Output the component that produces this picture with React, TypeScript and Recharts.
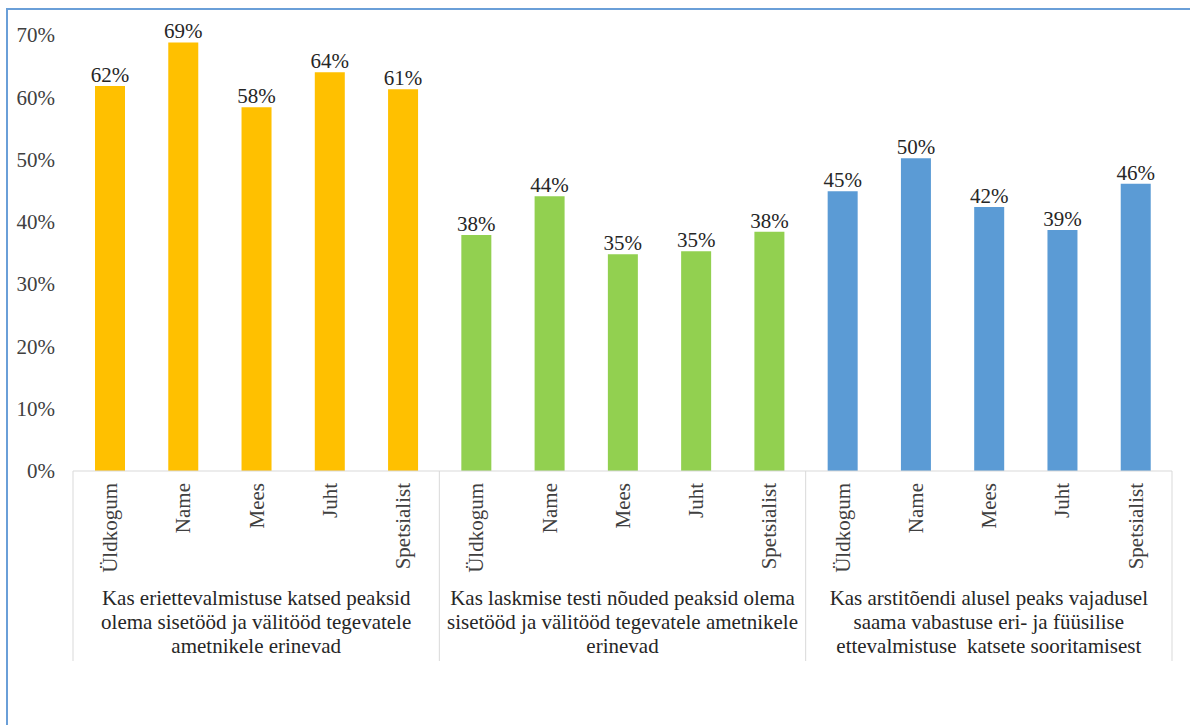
import React from 'react';
import { BarChart, Bar, XAxis, YAxis, Cell, LabelList } from 'recharts';

const categories = ['Üldkogum', 'Name', 'Mees', 'Juht', 'Spetsialist'];
const groupLabels = [
  ['Kas eriettevalmistuse katsed peaksid', 'olema sisetööd ja välitööd tegevatele', 'ametnikele erinevad'],
  ['Kas laskmise testi nõuded peaksid olema', 'sisetööd ja välitööd tegevatele ametnikele', 'erinevad'],
  ['Kas arstitõendi alusel peaks vajadusel', 'saama vabastuse eri- ja füüsilise', 'ettevalmistuse  katsete sooritamisest'],
];
const groupColors = ['#FFC000', '#92D050', '#5B9BD5'];
const eriettevalmistus = [0.618, 0.688, 0.584, 0.64, 0.613];
const laskmine = [0.379, 0.441, 0.348, 0.353, 0.384];
const arstitoend = [0.449, 0.502, 0.424, 0.387, 0.461];
const yTicks = [0, 0.1, 0.2, 0.3, 0.4, 0.5, 0.6, 0.7];

const groups = [eriettevalmistus, laskmine, arstitoend];
const data = groups.flatMap((vals, g) =>
  vals.map((v, i) => ({ id: `${g}-${i}`, name: categories[i], group: g, pos: i, value: v }))
);

const W = 1190;
const H = 725;
const LEFT = 73;
const RIGHT = 18;
const FONT = '"Liberation Serif", "Times New Roman", serif';
const FS = 21;
const step = (W - LEFT - RIGHT) / data.length;
const pct = (v: number) => `${Math.round(v * 100)}%`;

const CategoryTick = (props: any) => {
  const { x, y, index } = props;
  const d = data[index];
  if (!d) return null;
  const lines = d.pos === 2 ? groupLabels[d.group] : [];
  return (
    <g>
      <text
        x={x}
        y={y + 12}
        transform={`rotate(-90 ${x} ${y + 12})`}
        textAnchor="end"
        dy="0.35em"
        fontSize={FS}
        fontFamily={FONT}
        fill="#404040"
      >
        {d.name}
      </text>
      {d.pos === 0 && (
        <line x1={x - step / 2} x2={x - step / 2} y1={y} y2={y + 190} stroke="#d9d9d9" />
      )}
      {index === data.length - 1 && (
        <line x1={x + step / 2} x2={x + step / 2} y1={y} y2={y + 190} stroke="#d9d9d9" />
      )}
      {lines.map((l, k) => (
        <text
          key={k}
          x={x}
          y={y + 134 + k * 24}
          textAnchor="middle"
          fontSize={FS}
          fontFamily={FONT}
          fill="#262626"
          style={{ whiteSpace: 'pre' }}
        >
          {l}
        </text>
      ))}
    </g>
  );
};

const ValueTick = (props: any) => {
  const { x, y, payload } = props;
  return (
    <text x={x} y={y} dy="0.35em" textAnchor="end" fontSize={FS} fontFamily={FONT} fill="#404040">
      {pct(payload.value)}
    </text>
  );
};

export default function App() {
  return (
    <div
      style={{
        position: 'absolute',
        left: 0,
        top: 0,
        width: W,
        height: H,
        background: '#fff',
        fontFamily: FONT,
      }}
    >
      <div
        style={{
          position: 'absolute',
          left: 6,
          top: 8,
          right: 0,
          bottom: 0,
          borderTop: '2px solid #6a9fd8',
          borderLeft: '2px solid #6a9fd8',
        }}
      />
      <div style={{ position: 'absolute', left: 0, top: 0 }}>
        <BarChart
          width={W}
          height={H}
          data={data}
          margin={{ top: 35, right: RIGHT, left: 8, bottom: 54 }}
          style={{ fontFamily: FONT }}
        >
          <XAxis
            dataKey="id"
            interval={0}
            height={200}
            tickLine={false}
            tickSize={0}
            tickMargin={0}
            axisLine={{ stroke: '#d9d9d9' }}
            tick={<CategoryTick />}
          />
          <YAxis
            width={65}
            domain={[0, 0.7]}
            ticks={yTicks}
            axisLine={false}
            tickLine={false}
            tickMargin={12}
            tick={<ValueTick />}
          />
          <Bar dataKey="value" barSize={30} isAnimationActive={false}>
            {data.map((d) => (
              <Cell key={d.id} fill={groupColors[d.group]} />
            ))}
            <LabelList
              dataKey="value"
              position="top"
              offset={4}
              formatter={(v: any) => pct(Number(v))}
              style={{ fontSize: FS, fontFamily: FONT, fill: '#262626' }}
            />
          </Bar>
        </BarChart>
      </div>
    </div>
  );
}
